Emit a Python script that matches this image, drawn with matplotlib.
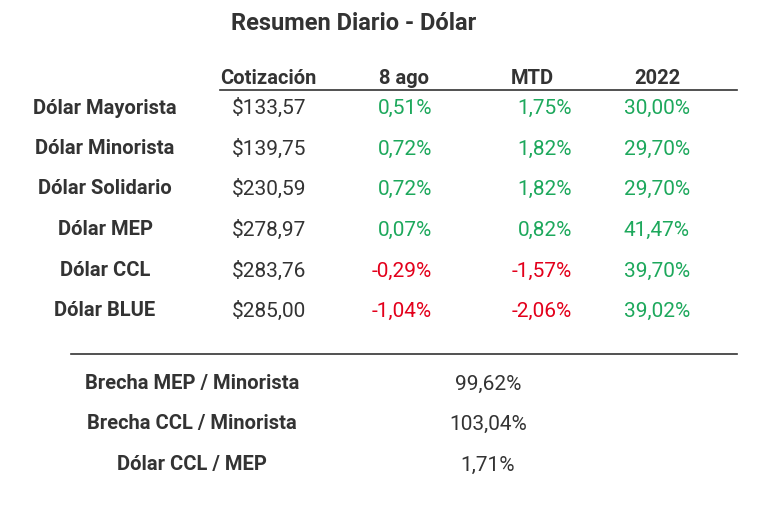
import matplotlib.pyplot as plt

plt.rcParams['font.family'] = ['Roboto', 'DejaVu Sans']

title = 'Resumen Diario - Dólar'
columns = ['Cotización', '8 ago', 'MTD', '2022']
rows = ['Dólar Mayorista', 'Dólar Minorista', 'Dólar Solidario',
        'Dólar MEP', 'Dólar CCL', 'Dólar BLUE']
cotizacion = [133.57, 139.75, 230.59, 278.97, 283.76, 285.00]
var_dia = [0.51, 0.72, 0.72, 0.07, -0.29, -1.04]
var_mtd = [1.75, 1.82, 1.82, 0.82, -1.57, -2.06]
var_anio = [30.00, 29.70, 29.70, 41.47, 39.70, 39.02]
brechas = ['Brecha MEP / Minorista', 'Brecha CCL / Minorista', 'Dólar CCL / MEP']
brecha_vals = [99.62, 103.04, 1.71]

dark = '#333333'
green = '#1da85c'
red = '#e3001b'
fs_lab = 14.5
fs_val = 15


def fmt(v, dec=2):
    return f'{v:.{dec}f}'.replace('.', ',')


def pct_color(v):
    return red if v < 0 else green


fig = plt.figure(figsize=(7.68, 5.10), dpi=100)
ax = fig.add_axes([0, 0, 1, 1])
ax.set_xlim(0, 768)
ax.set_ylim(510, 0)
ax.axis('off')

ax.text(354, 23, title, ha='center', va='center', fontsize=17,
        fontweight='bold', color=dark)

header_x = [268, 404, 532, 657]
for x, c in zip(header_x, columns):
    ax.text(x, 79, c, ha='center', va='center', fontsize=fs_lab,
            fontweight='bold', color=dark)
ax.plot([220, 737], [91, 91], color=dark, lw=1.2)

row_y = [108, 149, 189, 230, 271, 311]
for i, y in enumerate(row_y):
    ax.text(105, y, rows[i], ha='center', va='center', fontsize=fs_lab,
            fontweight='bold', color=dark)
    ax.text(269, y, '$' + fmt(cotizacion[i]), ha='center', va='center',
            fontsize=fs_val, color=dark)
    ax.text(432, y, fmt(var_dia[i]) + '%', ha='right', va='center',
            fontsize=fs_val, color=pct_color(var_dia[i]))
    ax.text(572, y, fmt(var_mtd[i]) + '%', ha='right', va='center',
            fontsize=fs_val, color=pct_color(var_mtd[i]))
    ax.text(690, y, fmt(var_anio[i]) + '%', ha='right', va='center',
            fontsize=fs_val, color=pct_color(var_anio[i]))

ax.plot([71, 737], [355, 355], color=dark, lw=1.2)

brecha_y = [384, 424, 465]
for y, lab, v in zip(brecha_y, brechas, brecha_vals):
    ax.text(192, y, lab, ha='center', va='center', fontsize=fs_lab,
            fontweight='bold', color=dark)
    ax.text(488, y, fmt(v) + '%', ha='center', va='center',
            fontsize=fs_val, color=dark)

fig.savefig('out.png', dpi=100)
